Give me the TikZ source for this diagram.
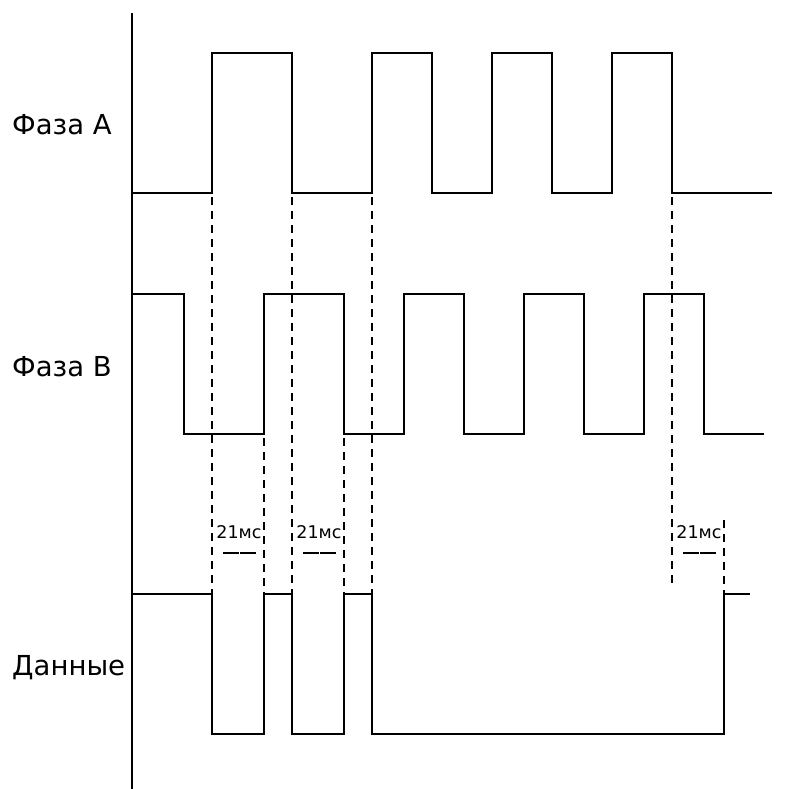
\documentclass[tikz,border=0pt]{standalone}
\usepackage{fontspec}
\setmainfont{DejaVu Sans}
\begin{document}
\begin{tikzpicture}[x=1pt,y=-1pt,
  sig/.style={line width=2.2pt, line join=miter},
  guide/.style={line width=2.2pt, dash pattern=on 8pt off 6pt},
  lbl/.style={font=\fontsize{27.5}{32}\selectfont, anchor=base west, inner sep=0pt},
  ms/.style={font=\fontsize{17.5}{20}\selectfont, inner sep=0pt},
  tick/.style={line width=2pt}]
\useasboundingbox (0,0) rectangle (787,789);
% axis
\draw[sig] (132,13) -- (132,789);
% phase A
\draw[sig] (132,193) -- (212,193) -- (212,53) -- (292,53) -- (292,193) -- (372,193) -- (372,53) -- (432,53) -- (432,193) -- (492,193) -- (492,53) -- (552,53) -- (552,193) -- (612,193) -- (612,53) -- (672,53) -- (672,193) -- (772,193);
% phase B
\draw[sig] (132,294) -- (184,294) -- (184,434) -- (264,434) -- (264,294) -- (344,294) -- (344,434) -- (404,434) -- (404,294) -- (464,294) -- (464,434) -- (524,434) -- (524,294) -- (584,294) -- (584,434) -- (644,434) -- (644,294) -- (704,294) -- (704,434) -- (764,434);
% data
\draw[sig] (132,594) -- (212,594) -- (212,734) -- (264,734) -- (264,594) -- (292,594) -- (292,734) -- (344,734) -- (344,594) -- (372,594) -- (372,734) -- (724,734) -- (724,594) -- (750,594);
% guides
\draw[guide] (212,197) -- (212,594);
\draw[guide] (292,197) -- (292,594);
\draw[guide] (372,197) -- (372,594);
\draw[guide] (264,438) -- (264,594);
\draw[guide] (344,438) -- (344,594);
\draw[guide] (672,197) -- (672,588);
\draw[guide] (724,520) -- (724,594);
% labels
\node[lbl] (la) at (12,135) {Фаза А};
\node[lbl] (lb) at (12,376) {Фаза В};
\node[lbl] (ld) at (12,675) {Данные};
\node[ms] (m1) at (239,532) {21мс};
\node[ms] (m2) at (319,532) {21мс};
\node[ms] (m3) at (699,532) {21мс};
\draw[tick] (223,553) -- (239,553) (240,553) -- (256,553);
\draw[tick] (303,553) -- (319,553) (320,553) -- (336,553);
\draw[tick] (683,553) -- (699,553) (700,553) -- (716,553);
\end{tikzpicture}
\end{document}
